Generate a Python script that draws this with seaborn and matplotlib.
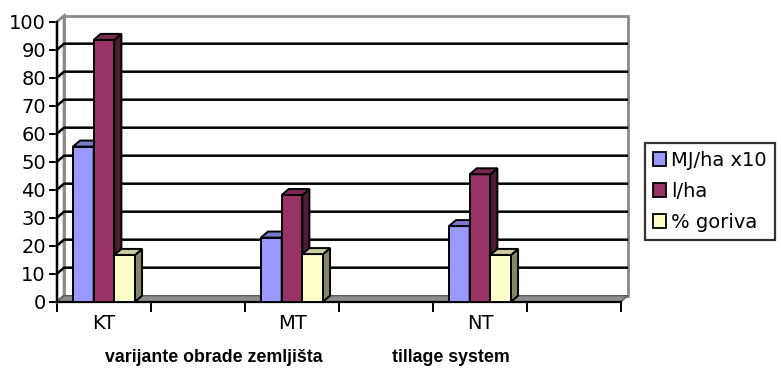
import matplotlib
matplotlib.use("Agg")
import matplotlib.pyplot as plt
import matplotlib.colors as mcolors
from matplotlib.patches import Polygon, Patch
import pandas as pd
import seaborn as sns

# Tillage systems and the three measured quantities
systems = ["KT", "MT", "NT"]
series = ["MJ/ha x10", "l/ha", "% goriva"]
mj_ha_x10 = [55.4, 22.9, 27.0]
l_ha = [93.5, 38.1, 45.5]
goriva_pct = [16.7, 17.0, 16.7]

# category slots on the x axis (blank slots between the systems)
slot_order = ["KT", "", "MT", " ", "NT", "  "]
y_ticks = list(range(0, 101, 10))
colors = ["#9999FF", "#993366", "#FFFFCC"]

df = pd.DataFrame({
    "system": systems * 3,
    "series": [s for s in series for _ in systems],
    "value": mj_ha_x10 + l_ha + goriva_pct,
})

sns.set_style("white")
plt.rcParams["font.family"] = ["DejaVu Sans"]
plt.rcParams["text.color"] = "black"
plt.rcParams["xtick.color"] = "black"
plt.rcParams["ytick.color"] = "black"

W, H = 781, 369
fig = plt.figure(figsize=(W / 100, H / 100), dpi=100)
ax = fig.add_axes([57 / W, (H - 301.7) / H, (621 - 57) / W, 280 / H])

sns.barplot(data=df, x="system", y="value", hue="series", order=slot_order,
            hue_order=series, palette=colors, saturation=1, width=0.66,
            gap=0, edgecolor="black", linewidth=1.4, legend=False, ax=ax)

ax.set_xlim(-0.5, len(slot_order) - 0.5)
ax.set_ylim(0, 100)

# depth of the pseudo-3D box, in data units
dx, dy = 0.075, 2.15
x0, x1 = -0.5, len(slot_order) - 0.5

# back wall, side wall and floor
ax.add_patch(Polygon([(x0 + dx, dy), (x1 + dx, dy), (x1 + dx, 100 + dy), (x0 + dx, 100 + dy)],
                     closed=True, facecolor="white", edgecolor="#8a8a8a", lw=2.0,
                     zorder=0.5, clip_on=False))
ax.add_patch(Polygon([(x0, 0), (x0 + dx, dy), (x0 + dx, 100 + dy), (x0, 100)],
                     closed=True, facecolor="white", edgecolor="#8a8a8a", lw=2.0,
                     zorder=0.6, clip_on=False))
ax.add_patch(Polygon([(x0, 0), (x1, 0), (x1 + dx, dy), (x0 + dx, dy)],
                     closed=True, facecolor="#8c8c8c", edgecolor="#5a5a5a", lw=1.0,
                     zorder=0.7, clip_on=False))
for v in y_ticks[1:-1]:
    ax.plot([x0, x0 + dx, x1 + dx], [v, v + dy, v + dy], color="black", lw=1.8,
            zorder=0.8, clip_on=False, solid_capstyle="butt")

# side and top faces of each column
for i, cont in enumerate(ax.containers):
    base = mcolors.to_rgb(colors[i])
    top_c = tuple(c * 0.8 for c in base)
    side_c = tuple(c * 0.52 for c in base)
    for bar in cont:
        bx0 = bar.get_x()
        bx1 = bx0 + bar.get_width()
        h = bar.get_height()
        bar.set_zorder(2 + 2 * i)
        ax.add_patch(Polygon([(bx1, 0), (bx1 + dx, dy), (bx1 + dx, h + dy), (bx1, h)],
                             closed=True, facecolor=side_c, edgecolor="black",
                             lw=1.4, zorder=2.5 + 2 * i, clip_on=False))
        ax.add_patch(Polygon([(bx0, h), (bx1, h), (bx1 + dx, h + dy), (bx0 + dx, h + dy)],
                             closed=True, facecolor=top_c, edgecolor="black",
                             lw=1.4, zorder=2.5 + 2 * i, clip_on=False))

# axes lines and ticks
for side in ["top", "right"]:
    ax.spines[side].set_visible(False)
for side in ["left", "bottom"]:
    ax.spines[side].set_color("black")
    ax.spines[side].set_linewidth(1.6)
    ax.spines[side].set_zorder(1)

ax.set_yticks(y_ticks)
ax.tick_params(axis="y", length=6, width=1.4, color="black", pad=2,
               labelsize=14, labelcolor="black", left=True)
ax.set_xticks(range(len(slot_order)))
ax.set_xticklabels(slot_order)
ax.set_xticks([k - 0.5 for k in range(len(slot_order) + 1)], minor=True)
ax.tick_params(axis="x", which="major", length=0, pad=9, labelsize=14,
               labelcolor="black")
ax.tick_params(axis="x", which="minor", length=7, width=1.4, color="black",
               bottom=True)
ax.set_xlabel("")
ax.set_ylabel("")

bold_font = ["Liberation Sans", "DejaVu Sans"]
fig.text(214 / W, 1 - 358 / H, "varijante obrade zemljišta", ha="center", va="center",
         fontsize=12.8, fontweight="bold", family=bold_font)
fig.text(451 / W, 1 - 358 / H, "tillage system", ha="center", va="center",
         fontsize=12.8, fontweight="bold", family=bold_font)

handles = [Patch(facecolor=c, edgecolor="black", lw=1.3) for c in colors]
leg = fig.legend(handles, series, loc="upper left",
                 bbox_to_anchor=(645 / W, 1 - 143 / H), frameon=True,
                 fancybox=False, fontsize=14, handlelength=0.7,
                 handleheight=0.7, handletextpad=0.25, labelspacing=0.62,
                 borderpad=0.4, borderaxespad=0, labelcolor="black")
leg.get_frame().set_edgecolor("black")
leg.get_frame().set_linewidth(1.6)

fig.savefig("out.png", dpi=100)
